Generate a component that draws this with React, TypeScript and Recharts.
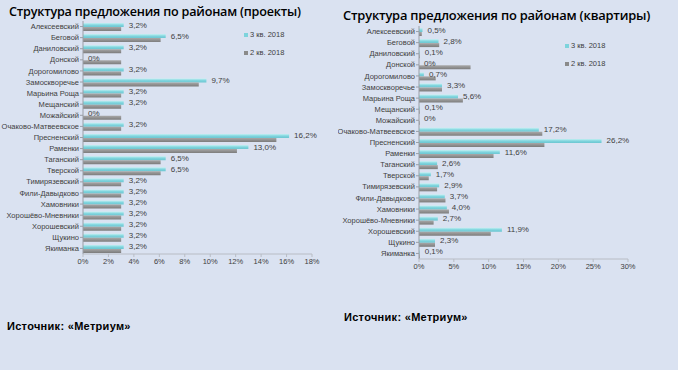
import React from "react";
import { BarChart, Bar, XAxis, YAxis, LabelList, Legend } from "recharts";

const districts = [
  "Алексеевский", "Беговой", "Даниловский", "Донской", "Дорогомилово",
  "Замоскворечье", "Марьина Роща", "Мещанский", "Можайский", "Очаково-Матвеевское",
  "Пресненский", "Раменки", "Таганский", "Тверской", "Тимирязевский",
  "Фили-Давыдково", "Хамовники", "Хорошёво-Мневники", "Хорошевский", "Щукино", "Якиманка",
];

const projQ3 = [3.2, 6.5, 3.2, 0, 3.2, 9.7, 3.2, 3.2, 0, 3.2, 16.2, 13.0, 6.5, 6.5, 3.2, 3.2, 3.2, 3.2, 3.2, 3.2, 3.2];
const projQ2 = [3.0, 6.1, 3.0, 3.0, 3.0, 9.1, 3.0, 3.0, 3.0, 3.0, 15.2, 12.1, 6.1, 6.1, 3.0, 3.0, 3.0, 3.0, 3.0, 3.0, 3.0];

const aptQ3 = [0.5, 2.8, 0.1, 0, 0.7, 3.3, 5.6, 0.1, 0, 17.2, 26.2, 11.6, 2.6, 1.7, 2.9, 3.7, 4.0, 2.7, 11.9, 2.3, 0.1];
const aptQ2 = [0.4, 2.9, 0.1, 7.4, 2.4, 3.3, 6.3, 0.1, 0.1, 17.7, 18.0, 10.7, 2.7, 1.4, 2.6, 3.8, 4.3, 2.1, 10.3, 2.3, 0.1];

const projTicks = [0, 2, 4, 6, 8, 10, 12, 14, 16, 18];
const aptTicks = [0, 5, 10, 15, 20, 25, 30];

const seriesQ3 = "3 кв. 2018";
const seriesQ2 = "2 кв. 2018";

const titleLeft = "Структура предложения по районам (проекты)";
const titleRight = "Структура предложения по районам (квартиры)";
const sourceText = "Источник: «Метриум»";

const projData = districts.map((d, i) => ({ name: d, q3: projQ3[i], q2: projQ2[i] }));
const aptData = districts.map((d, i) => ({ name: d, q3: aptQ3[i], q2: aptQ2[i] }));

const fmt = (v: number) => (v === 0 ? "0%" : v.toFixed(1).replace(".", ",") + "%");

const CYAN = "#7dd3dc";
const GRAY = "#8a8a8a";
const FONT = "'Liberation Sans', Arial, sans-serif";

const LegendContent = () => (
  <div style={{ fontFamily: FONT, fontSize: 7.5, color: "#404040" }}>
    {[
      { c: CYAN, t: seriesQ3 },
      { c: GRAY, t: seriesQ2 },
    ].map((it, i) => (
      <div key={i} style={{ display: "flex", alignItems: "center", height: 9, marginBottom: i === 0 ? 9 : 0 }}>
        <span style={{ width: 4, height: 4, background: it.c, display: "inline-block", marginRight: 2 }} />
        <span>{it.t}</span>
      </div>
    ))}
  </div>
);

const Defs = () => (
  <defs>
    <linearGradient id="gC" x1="0" y1="0" x2="0" y2="1">
      <stop offset="0" stopColor="#c4f0f3" />
      <stop offset="0.5" stopColor="#80d5de" />
      <stop offset="1" stopColor="#6cc6d1" />
    </linearGradient>
    <linearGradient id="gG" x1="0" y1="0" x2="0" y2="1">
      <stop offset="0" stopColor="#a8a8a8" />
      <stop offset="1" stopColor="#7c7c7c" />
    </linearGradient>
  </defs>
);

const CatTick = (p: any) => (
  <text
    x={p.x}
    y={p.y}
    dy={2.6}
    textAnchor="end"
    fontSize={7.5}
    fill="#404040"
    fontFamily={FONT}
  >
    {p.payload.value}
  </text>
);

const BarLabel = (p: any) => {
  const { x, y, width, height, value } = p;
  if (value === undefined || value === null) return null;
  return (
    <text
      x={Number(x) + Number(width) + 5}
      y={Number(y) + Number(height) / 2}
      dy={2.5}
      fontSize={8}
      fill="#404040"
      fontFamily={FONT}
    >
      {fmt(Number(value))}
    </text>
  );
};

function Panel(props: {
  data: any[];
  width: number;
  height: number;
  yWidth: number;
  margin: any;
  ticks: number[];
  legendPos: { left: number; top: number };
}) {
  const { data, width, height, yWidth, margin, ticks, legendPos } = props;
  return (
    <BarChart
      width={width}
      height={height}
      data={data}
      layout="vertical"
      margin={margin}
      barSize={4}
      barGap={0}
    >
      <Defs />
      <XAxis
        type="number"
        domain={[ticks[0], ticks[ticks.length - 1]]}
        ticks={ticks}
        tickFormatter={(v: number) => v + "%"}
        tick={{ fontSize: 7.5, fill: "#404040", fontFamily: FONT }}
        axisLine={{ stroke: "#b8bcc4" }}
        tickLine={{ stroke: "#b8bcc4" }}
        tickSize={3}
        height={14}
        interval={0}
      />
      <YAxis
        type="category"
        dataKey="name"
        width={yWidth}
        tick={<CatTick />}
        axisLine={{ stroke: "#9a9ea6" }}
        tickLine={{ stroke: "#9a9ea6" }}
        tickSize={3}
        tickMargin={1}
        interval={0}
      />
      <Legend
        layout="vertical"
        content={<LegendContent />}
        wrapperStyle={{ position: "absolute", left: legendPos.left, top: legendPos.top, width: 60 }}
      />
      <Bar dataKey="q3" name={seriesQ3} fill="url(#gC)" minPointSize={0.01} isAnimationActive={false}>
        <LabelList dataKey="q3" content={<BarLabel />} />
      </Bar>
      <Bar dataKey="q2" name={seriesQ2} fill="url(#gG)" isAnimationActive={false} />
    </BarChart>
  );
}

export default function App() {
  return (
    <div
      style={{
        position: "absolute",
        left: 0,
        top: 0,
        width: 678,
        height: 370,
        background: "#dae2f1",
        overflow: "hidden",
      }}
    >
      <div
        style={{
          position: "absolute",
          left: 9,
          top: 3,
          fontFamily: "'Open Sans', sans-serif",
          fontWeight: 600,
          fontSize: 12.6,
          letterSpacing: -0.2,
          color: "#000",
          whiteSpace: "nowrap",
        }}
      >
        {titleLeft}
      </div>
      <div
        style={{
          position: "absolute",
          left: 343,
          top: 6,
          fontFamily: "'Open Sans', sans-serif",
          fontWeight: 600,
          fontSize: 12.9,
          letterSpacing: -0.2,
          color: "#000",
          whiteSpace: "nowrap",
        }}
      >
        {titleRight}
      </div>
      <div style={{ position: "absolute", left: 0, top: 0 }}>
        <Panel
          data={projData}
          width={338}
          height={300}
          yWidth={83}
          margin={{ top: 21, right: 26, bottom: 5, left: 0 }}
          ticks={projTicks}
          legendPos={{ left: 244, top: 30 }}
        />
      </div>
      <div style={{ position: "absolute", left: 338, top: 0 }}>
        <Panel
          data={aptData}
          width={340}
          height={305}
          yWidth={81}
          margin={{ top: 26, right: 50, bottom: 5, left: 0 }}
          ticks={aptTicks}
          legendPos={{ left: 227, top: 41 }}
        />
      </div>
      <div
        style={{
          position: "absolute",
          left: 7,
          top: 320,
          fontFamily: FONT,
          fontWeight: "bold",
          fontSize: 11,
          letterSpacing: 0.3,
          color: "#000",
          whiteSpace: "nowrap",
        }}
      >
        {sourceText}
      </div>
      <div
        style={{
          position: "absolute",
          left: 344,
          top: 311,
          fontFamily: FONT,
          fontWeight: "bold",
          fontSize: 11,
          letterSpacing: 0.3,
          color: "#000",
          whiteSpace: "nowrap",
        }}
      >
        {sourceText}
      </div>
    </div>
  );
}
